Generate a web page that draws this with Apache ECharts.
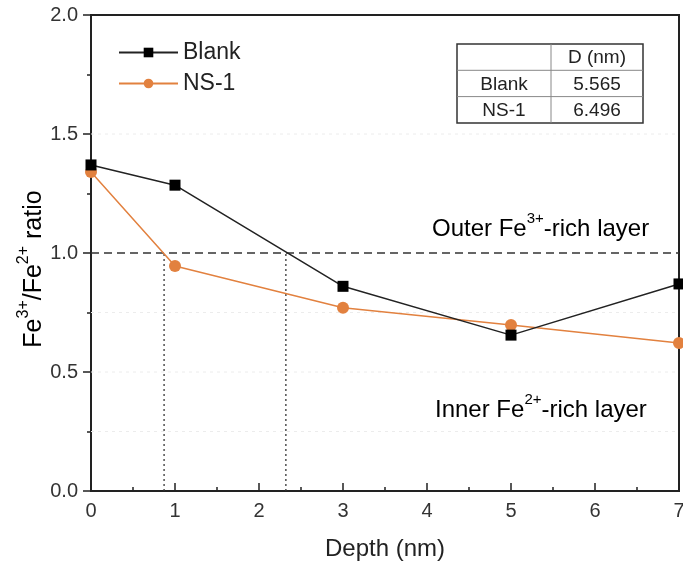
<!DOCTYPE html>
<html>
<head>
<meta charset="UTF-8">
<script src="https://cdn.jsdelivr.net/npm/echarts@6/dist/echarts.min.js"></script>
<style>
  html, body { margin: 0; padding: 0; background: #fff; }
  #chart { width: 683px; height: 570px; }
</style>
</head>
<body>
<div id="chart"></div>
<script>
// depth (nm) and Fe3+/Fe2+ ratio
const depths = [0, 1, 3, 5, 7];
const blankRatio = [1.37, 1.285, 0.86, 0.655, 0.87];
const ns1Ratio = [1.34, 0.945, 0.77, 0.697, 0.622];

// crossing points of each curve with ratio = 1.0
const crossX = [0.87, 2.32];
const thresholdY = 1.0;

// faint reference lines in the background
const faintY = [0.25, 0.5, 0.75, 1.5];

// inset table
const tableHead = ['', 'D (nm)'];
const tableRows = [['Blank', '5.565'], ['NS-1', '6.496']];

const FONT = 'Liberation Sans, Arial, sans-serif';
const ORANGE = '#E2813F';
const INK = '#222';

const toPairs = (xs, ys) => xs.map((x, i) => [x, ys[i]]);

const chart = echarts.init(document.getElementById('chart'));

const supRich = (size) => ({
  n: { fontFamily: FONT, fontSize: size, color: INK, lineHeight: size + 6, verticalAlign: 'bottom' },
  s: { fontFamily: FONT, fontSize: Math.round(size * 0.62), color: INK, lineHeight: size + 6, verticalAlign: 'top' }
});

const series = [
  {
    name: 'Blank', type: 'line', data: toPairs(depths, blankRatio),
    symbol: 'rect', symbolSize: 11, z: 5,
    lineStyle: { color: INK, width: 1.5 },
    itemStyle: { color: '#000' }
  },
  {
    name: 'NS-1', type: 'line', data: toPairs(depths, ns1Ratio),
    symbol: 'circle', symbolSize: 12, z: 4,
    lineStyle: { color: ORANGE, width: 1.5 },
    itemStyle: { color: ORANGE }
  },
  {
    name: 'threshold', type: 'line', data: [[0, thresholdY], [7, thresholdY]],
    symbol: 'none', silent: true, z: 2,
    lineStyle: { color: '#333', width: 1.5, type: [8, 5] }
  }
];

crossX.forEach((x, i) => {
  series.push({
    name: 'cross' + i, type: 'line', data: [[x, 0], [x, thresholdY]],
    symbol: 'none', silent: true, z: 2,
    lineStyle: { color: '#333', width: 1.3, type: [2, 3] }
  });
});

faintY.forEach((y, i) => {
  series.push({
    name: 'faint' + i, type: 'line', data: [[0, y], [7, y]],
    symbol: 'none', silent: true, z: 1,
    lineStyle: { color: '#ececec', width: 1, type: [3, 4] }
  });
});

// table graphic
const tx = 457, ty = 44, tw = 186, rh = 26.3, cx = 551;
const graphics = [
  { type: 'rect', shape: { x: tx, y: ty, width: tw, height: rh * 3 },
    style: { fill: '#fff', stroke: '#333', lineWidth: 1.5 }, z: 10 },
  { type: 'line', shape: { x1: tx, y1: ty + rh, x2: tx + tw, y2: ty + rh },
    style: { stroke: '#888', lineWidth: 1 }, z: 11 },
  { type: 'line', shape: { x1: tx, y1: ty + rh * 2, x2: tx + tw, y2: ty + rh * 2 },
    style: { stroke: '#888', lineWidth: 1 }, z: 11 },
  { type: 'line', shape: { x1: cx, y1: ty, x2: cx, y2: ty + rh * 3 },
    style: { stroke: '#888', lineWidth: 1 }, z: 11 }
];
[tableHead].concat(tableRows).forEach((row, r) => {
  row.forEach((cell, c) => {
    graphics.push({
      type: 'text', z: 12,
      x: c === 0 ? (tx + cx) / 2 : (cx + tx + tw) / 2,
      y: ty + rh * r + rh / 2 + 1,
      style: { text: cell, font: '19px ' + FONT, fill: INK, align: 'center', verticalAlign: 'middle' }
    });
  });
});
graphics.push({
  type: 'text', x: 432, y: 226, z: 12,
  style: {
    text: '{n|Outer Fe}{s|3+}{n|-rich layer}', rich: supRich(24),
    verticalAlign: 'middle', align: 'left'
  }
});
graphics.push({
  type: 'text', x: 435, y: 407, z: 12,
  style: {
    text: '{n|Inner Fe}{s|2+}{n|-rich layer}', rich: supRich(24),
    verticalAlign: 'middle', align: 'left'
  }
});
// y axis title, rotated
graphics.push({
  type: 'text', x: 31, y: 269, rotation: Math.PI / 2, z: 12,
  style: {
    text: '{n|Fe}{s|3+}{n|/Fe}{s|2+}{n| ratio}', rich: supRich(25),
    verticalAlign: 'middle', align: 'center'
  }
});

chart.setOption({
  animation: false,
  backgroundColor: '#fff',
  textStyle: { fontFamily: FONT },
  grid: {
    left: 91, right: 4, top: 15, bottom: 79, outerBoundsMode: 'none', containLabel: false,
    show: true, borderColor: INK, borderWidth: 2, backgroundColor: 'transparent'
  },
  legend: {
    data: ['Blank', 'NS-1'], orient: 'vertical', left: 113, top: 36,
    itemWidth: 59, itemHeight: 12, itemGap: 8,
    textStyle: { fontFamily: FONT, fontSize: 23, color: INK }
  },
  xAxis: {
    type: 'value', min: 0, max: 7, interval: 1,
    name: 'Depth (nm)', nameLocation: 'middle', nameGap: 46,
    nameTextStyle: { fontFamily: FONT, fontSize: 24, color: INK },
    axisLine: { lineStyle: { color: INK, width: 2 } },
    axisTick: { inside: true, length: 8, lineStyle: { color: INK, width: 1.5 } },
    minorTick: { show: true, splitNumber: 2, length: 4, lineStyle: { color: INK, width: 1.5 } },
    axisLabel: { fontFamily: FONT, fontSize: 20, color: '#333', margin: 10 },
    splitLine: { show: false }
  },
  yAxis: {
    type: 'value', min: 0, max: 2, interval: 0.5,
    axisLine: { lineStyle: { color: INK, width: 2 } },
    axisTick: { length: 8, lineStyle: { color: INK, width: 1.5 } },
    minorTick: { show: true, splitNumber: 2, length: 4, lineStyle: { color: INK, width: 1.5 } },
    axisLabel: { fontFamily: FONT, fontSize: 20, color: '#333', margin: 13, formatter: v => v.toFixed(1) },
    splitLine: { show: false }
  },
  series: series,
  graphic: graphics
});
</script>
</body>
</html>
